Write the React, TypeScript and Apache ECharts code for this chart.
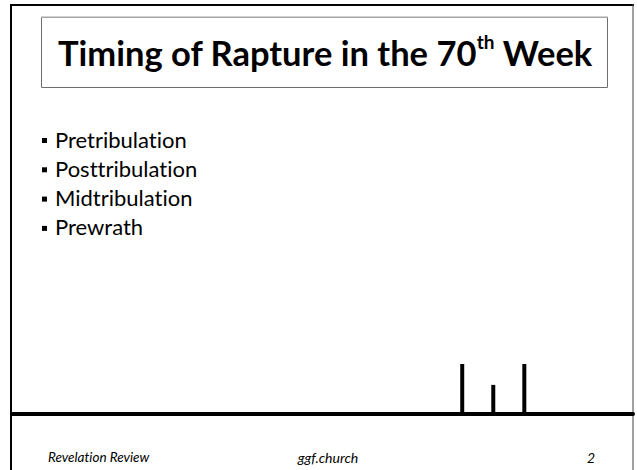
import React, { useEffect, useRef } from "react";
import * as echarts from "echarts";

// Slide text
const titleMain = "Timing of Rapture in the 70";
const titleSup = "th";
const titleEnd = " Week";
const bulletItems = ["Pretribulation", "Posttribulation", "Midtribulation", "Prewrath"];
const footerLeft = "Revelation Review";
const footerCenter = "ggf.church";
const footerRight = "2";

// Timeline of the 70th week: start, midpoint, end markers
const markerPositions = [14.5, 15.5, 16.5];
const markerHeights = [1.0, 0.58, 1.0];

const FONT = "Lato, 'Open Sans', sans-serif";

export default function App() {
  const ref = useRef<HTMLDivElement>(null);
  useEffect(() => {
    document.body.style.margin = "0";
    const styleEl = document.createElement("style");
    styleEl.textContent =
      "svg text { font-variant-ligatures: none; font-feature-settings: 'liga' 0, 'clig' 0, 'dlig' 0; }";
    document.head.appendChild(styleEl);
    if (!ref.current) return;
    const chart = echarts.init(ref.current, null, { renderer: "svg" });
    const bulletY0 = 139;
    const bulletStep = 29.3;
    const graphics: any[] = [];
    // outer frame
    graphics.push({ type: "rect", shape: { x: 10, y: 4, width: 2, height: 470 }, style: { fill: "#000" } });
    graphics.push({ type: "rect", shape: { x: 10, y: 4, width: 624, height: 2 }, style: { fill: "#000" } });
    graphics.push({ type: "rect", shape: { x: 632.5, y: 4, width: 1, height: 470 }, style: { fill: "#444" } });
    // title box
    graphics.push({ type: "rect", shape: { x: 41.5, y: 17.5, width: 566, height: 70 }, style: { fill: "#fff", stroke: "#6e6e6e", lineWidth: 1 } });
    graphics.push({ type: "rect", shape: { x: 41, y: 16.5, width: 567, height: 1.5 }, style: { fill: "#a6a6a6" } });
    graphics.push({
      type: "text",
      x: 325,
      y: 52,
      style: {
        text: `{a|${titleMain}}{s|${titleSup}}{a|${titleEnd}}`,
        align: "center",
        verticalAlign: "middle",
        rich: {
          a: { fontFamily: FONT, fontWeight: "bold", fontSize: 34.5, fill: "#000", lineHeight: 40 },
          s: { fontFamily: FONT, fontWeight: "bold", fontSize: 19, fill: "#000", verticalAlign: "top", lineHeight: 40, padding: [0, 0, 16, 0] },
        },
      },
    });
    bulletItems.forEach((t, i) => {
      const cy = bulletY0 + i * bulletStep;
      graphics.push({ type: "rect", shape: { x: 42, y: cy - 1, width: 5, height: 5 }, style: { fill: "#000" } });
      graphics.push({
        type: "text",
        x: 55,
        y: cy,
        style: { text: t, fontFamily: FONT, fontSize: 22, fill: "#000", verticalAlign: "middle", align: "left" },
      });
    });
    graphics.push({ type: "text", x: 48, y: 457, style: { text: footerLeft, fontFamily: FONT, fontStyle: "italic", fontSize: 13.5, fill: "#000", verticalAlign: "middle" } });
    graphics.push({ type: "text", x: 328, y: 457, style: { text: footerCenter, fontFamily: FONT, fontStyle: "italic", fontSize: 14, fill: "#000", verticalAlign: "middle", align: "center" } });
    graphics.push({ type: "text", x: 591, y: 457, style: { text: footerRight, fontFamily: FONT, fontStyle: "italic", fontSize: 14, fill: "#000", verticalAlign: "middle", align: "center" } });

    chart.setOption({
      animation: false,
      backgroundColor: "#fff",
      grid: { left: 12, right: 4, top: 364, bottom: 56.3 },
      xAxis: {
        type: "value",
        min: 0,
        max: 20,
        axisLine: { show: true, lineStyle: { color: "#000", width: 4 } },
        axisTick: { show: false },
        axisLabel: { show: false },
        splitLine: { show: false },
      },
      yAxis: {
        type: "value",
        min: 0,
        max: 1,
        show: false,
        splitLine: { show: false },
      },
      series: [
        {
          type: "bar",
          data: markerPositions.map((p, i) => [p, markerHeights[i]]),
          barWidth: 4,
          itemStyle: { color: "#000" },
          silent: true,
        },
      ],
      graphic: graphics,
    });
    return () => {
      chart.dispose();
      styleEl.remove();
    };
  }, []);
  return <div ref={ref} style={{ width: 637, height: 470, position: "fixed", left: 0, top: 0 }} />;
}
